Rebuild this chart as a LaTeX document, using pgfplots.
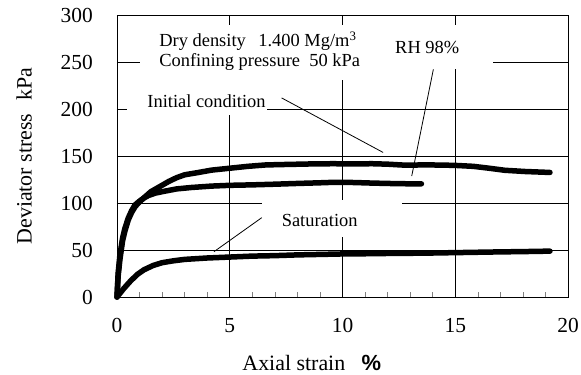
\documentclass[border=0pt]{standalone}
\usepackage{pgfplots}
\pgfplotsset{compat=1.18}
\usepackage{fontspec}
\setmainfont{Liberation Serif}
\newfontfamily\sansbf{Liberation Sans}

% Deviator stress vs axial strain (kPa, %)
\pgfplotstableread{
x y
0 0
0.05 22
0.13 40
0.25 60
0.35 70
0.5 82
0.65 90
0.8 96
0.95 100
1.17 105
1.5 112
1.9 117.5
2.3 123
2.65 127
3.0 130
3.5 132
4.2 135
5.0 137
5.8 139
6.6 140.5
7.5 141
8.5 141.5
9.6 141.8
10.5 141.5
11.3 141.8
12.0 141.3
12.8 140.2
13.5 140.5
14.3 140.4
15.0 140
15.8 139
16.5 137
17.2 134.8
18.1 133.5
19.2 132.5
}\initial

\pgfplotstableread{
x y
0 0
0.05 25
0.13 45
0.25 63
0.35 73
0.5 84
0.65 92
0.8 98
1.0 102
1.17 105
1.4 108
1.7 110.5
2.1 112.5
2.65 115
3.3 116.5
4.2 118
5.0 118.8
6.0 119.3
7.0 120
8.0 120.8
9.0 121.5
9.6 122
10.5 121.8
11.3 121.2
12.2 120.7
13.0 120.4
13.5 120.4
}\rhhigh

\pgfplotstableread{
x y
0 0
0.1 3
0.3 9
0.6 17
0.9 24
1.2 29
1.6 33.5
2.0 36.5
2.5 38.5
3.0 40
4.0 41.5
5.0 42.5
6.0 43.5
7.0 44
8.0 44.8
9.0 45.3
10.0 45.8
11.0 46
12.0 46.3
13.0 46.5
14.0 46.8
15.0 47.2
16.0 47.6
17.0 48
18.0 48.3
19.2 48.8
}\saturated

\begin{document}
\begin{tikzpicture}
\begin{axis}[
  name=ax,
  scale only axis,
  width=451bp, height=282bp,
  xmin=0, xmax=20, ymin=0, ymax=300,
  xtick={0,5,...,20}, ytick={0,50,...,300},
  minor x tick num=4,
  grid=major,
  major grid style={black, line width=0.6bp},
  axis line style={line width=0.9bp},
  tick align=inside,
  xtick pos=bottom, ytick pos=left,
  major tick length=0pt,
  minor tick length=5bp,
  minor tick style={line width=0.6bp},
  xticklabel={\textrm{\pgfmathprintnumber[assume math mode=true]{\tick}}},
  yticklabel={\textrm{\pgfmathprintnumber[assume math mode=true]{\tick}}},
  ticklabel style={font=\fontsize{21.5}{24}\selectfont},
  yticklabel style={anchor=east, inner sep=0pt, xshift=-24bp},
  xticklabel style={anchor=north, inner sep=0pt, yshift=-21bp},
  xlabel={Axial strain\hspace{0.75em}{\sansbf\bfseries\%}},
  ylabel={Deviator stress\hspace{0.6em}kPa},
  label style={font=\fontsize{22}{26}\selectfont},
  xlabel style={at={(axis description cs:0.432,-0.259)}, anchor=base},
  ylabel style={at={(axis description cs:-0.206,0.5)}, anchor=center},
  clip=false,
]
% white backgrounds behind the annotations
\fill[white] (axis cs:1.02,231) rectangle (axis cs:11.7,289);
\fill[white] (axis cs:0.44,194) rectangle (axis cs:6.65,231);
\fill[white] (axis cs:11.6,242.5) rectangle (axis cs:16.67,289);
\fill[white] (axis cs:6.43,64) rectangle (axis cs:12.64,103.5);

\addplot[black, no markers, line width=5.5bp, line cap=round, line join=round]
  table[x=x,y=y] {\initial};
\addplot[black, no markers, line width=5.5bp, line cap=round, line join=round]
  table[x=x,y=y] {\rhhigh};
\addplot[black, no markers, line width=5.5bp, line cap=round, line join=round]
  table[x=x,y=y] {\saturated};

\begin{scope}[font=\fontsize{18.5}{21}\selectfont]
\node[anchor=base west, inner sep=0pt] at (axis cs:1.87,266.3)
  {Dry density\hspace{0.68em}1.400 Mg/m\textsuperscript{3}};
\node[anchor=base west, inner sep=0pt] at (axis cs:1.87,245)
  {Confining pressure\hspace{0.5em}50 kPa};
\node[anchor=base west, inner sep=0pt] at (axis cs:1.34,201.8)
  {Initial condition};
\node[anchor=base west, inner sep=0pt] at (axis cs:12.33,259.3)
  {RH 98\%};
\node[anchor=base west, inner sep=0pt] at (axis cs:7.30,74.8)
  {Saturation};
\end{scope}

\draw[line width=0.8bp] (axis cs:7.3,211.8) -- (axis cs:11.8,153.8);
\draw[line width=0.8bp] (axis cs:14.03,242.2) -- (axis cs:13.07,128.7);
\draw[line width=0.8bp] (axis cs:6.42,84.4) -- (axis cs:4.30,48.2);
\end{axis}
\pgfresetboundingbox
\path[use as bounding box] ([xshift=-117bp,yshift=-78bp]ax.south west)
  rectangle ([xshift=13bp,yshift=15bp]ax.north east);
\end{tikzpicture}
\end{document}
